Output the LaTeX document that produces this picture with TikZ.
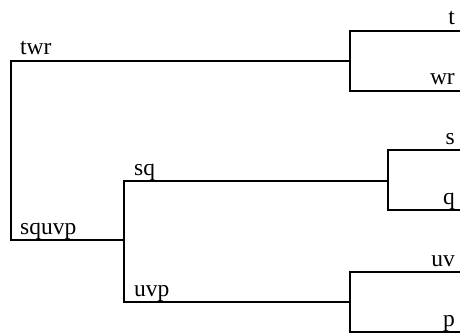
\documentclass[tikz,border=0pt]{standalone}
\usepackage{fontspec}
\setmainfont{Liberation Serif}
\begin{document}
\begin{tikzpicture}[x=1pt,y=-1pt,
  edge/.style={line width=2.4pt,line join=miter},
  lab/.style={inner sep=0pt,font=\fontsize{23.5}{24}\selectfont},
  llab/.style={lab,anchor=base west},
  rlab/.style={lab,anchor=base east}]
\useasboundingbox (0,0) rectangle (460,334);
% coordinates
\coordinate (rootT) at (11,61);
\coordinate (rootB) at (11,240);
\coordinate (twrJ) at (350,61);
\coordinate (twrJt) at (350,31);
\coordinate (twrJb) at (350,91);
\coordinate (tE) at (460,31);
\coordinate (wrE) at (460,91);
\coordinate (squvpJ) at (124,240);
\coordinate (sqvT) at (124,181);
\coordinate (sqvB) at (124,302);
\coordinate (sqJ) at (388,181);
\coordinate (sqJt) at (388,150);
\coordinate (sqJb) at (388,210);
\coordinate (sE) at (460,150);
\coordinate (qE) at (460,210);
\coordinate (uvpJ) at (350,302);
\coordinate (uvpJt) at (350,272);
\coordinate (uvpJb) at (350,332);
\coordinate (uvE) at (460,272);
\coordinate (pE) at (460,332);
% edges
\draw[edge] (twrJ) -- (rootT) -- (rootB) -- (squvpJ);
\draw[edge] (tE) -- (twrJt) -- (twrJb) -- (wrE);
\draw[edge] (sqJ) -- (sqvT) -- (sqvB) -- (uvpJ);
\draw[edge] (sE) -- (sqJt) -- (sqJb) -- (qE);
\draw[edge] (uvE) -- (uvpJt) -- (uvpJb) -- (pE);
% labels
\node[llab] (ltwr) at (20,55) {twr};
\node[llab] (lsquvp) at (20,234) {squvp};
\node[llab] (lsq) at (134,175) {sq};
\node[llab] (luvp) at (134,296) {uvp};
\node[rlab] (lt) at (455,25) {t};
\node[rlab] (lwr) at (455,85) {wr};
\node[rlab] (ls) at (455,144) {s};
\node[rlab] (lq) at (455,204) {q};
\node[rlab] (luv) at (455,266) {uv};
\node[rlab] (lp) at (455,326) {p};
\end{tikzpicture}
\end{document}
